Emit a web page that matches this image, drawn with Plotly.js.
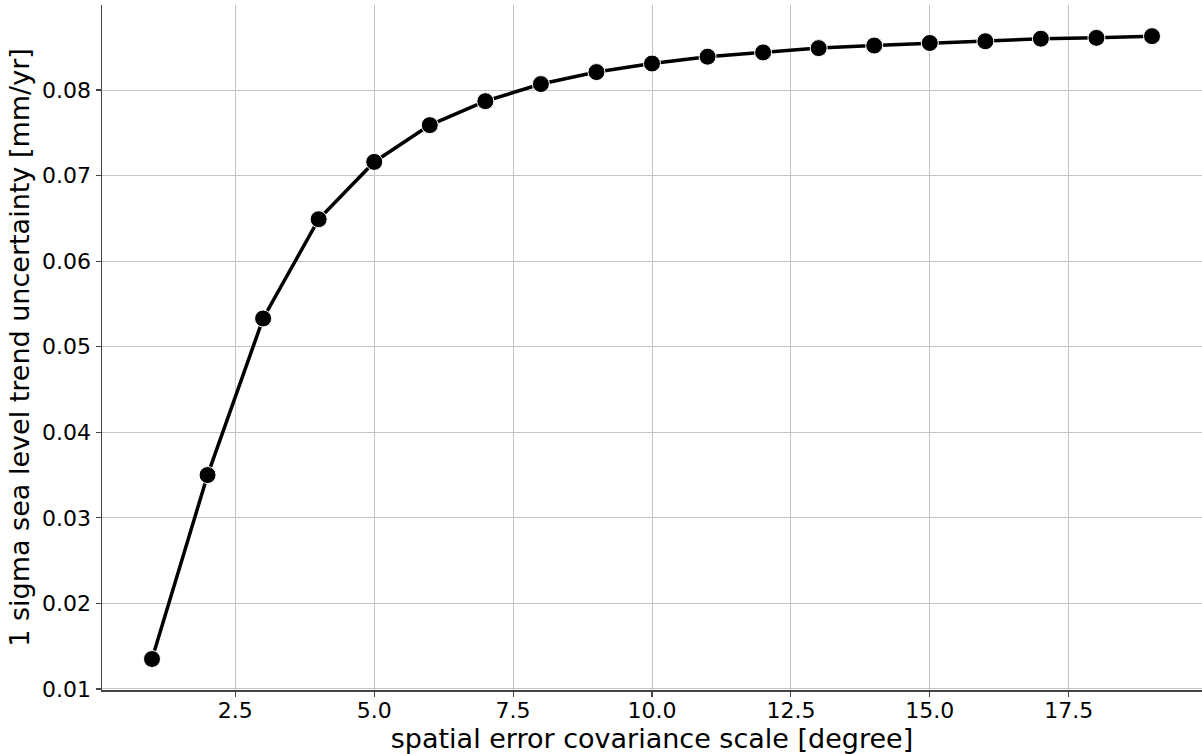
<!DOCTYPE html>
<html>
<head>
<meta charset="utf-8">
<script src="https://cdn.plot.ly/plotly-3.0.1.min.js"></script>
<style>html,body{margin:0;padding:0;background:#fff;}#chart{width:1202px;height:754px;}</style>
</head>
<body>
<div id="chart"></div>
<script>
const scaleDeg = [1,2,3,4,5,6,7,8,9,10,11,12,13,14,15,16,17,18,19];
const trendUncertainty = [0.0135,0.0350,0.0533,0.0649,0.0716,0.0759,0.0787,0.0807,0.0821,0.0831,0.0839,0.0844,0.0849,0.0852,0.0855,0.0857,0.0860,0.0861,0.0863];
const xTickVals = [2.5,5.0,7.5,10.0,12.5,15.0,17.5];
const xTickText = ['2.5','5.0','7.5','10.0','12.5','15.0','17.5'];
const yTickVals = [0.01,0.02,0.03,0.04,0.05,0.06,0.07,0.08];
const yTickText = ['0.01','0.02','0.03','0.04','0.05','0.06','0.07','0.08'];
const xTitle = 'spatial error covariance scale [degree]';
const yTitle = '1 sigma sea level trend uncertainty [mm/yr]';

const trace = {
  x: scaleDeg, y: trendUncertainty, type: 'scatter', mode: 'lines+markers',
  line: {color: '#000', width: 3.5},
  marker: {color: '#000', size: 17, line: {color: '#fff', width: 1}},
  hoverinfo: 'skip', cliponaxis: false
};
const layout = {
  width: 1202, height: 754,
  margin: {l: 102, r: 0, t: 5, b: 64},
  paper_bgcolor: '#fff', plot_bgcolor: '#fff',
  showlegend: false,
  font: {family: 'DejaVu Sans', size: 22, color: '#000'},
  xaxis: {
    range: [0.1, 19.9], tickvals: xTickVals, ticktext: xTickText,
    showgrid: true, gridcolor: '#c4c4c4', gridwidth: 1, zeroline: false,
    showline: true, linecolor: '#444', linewidth: 1.5,
    ticks: 'outside', ticklen: 5, tickwidth: 1.2, tickcolor: '#444',
    ticklabelstandoff: -5,
    tickfont: {family: 'DejaVu Sans', size: 22, color: '#000'},
    title: {text: xTitle, font: {family: 'DejaVu Sans', size: 27, color: '#000'}, standoff: 0},
    automargin: false
  },
  yaxis: {
    range: [0.00988, 0.08994], tickvals: yTickVals, ticktext: yTickText,
    showgrid: true, gridcolor: '#c4c4c4', gridwidth: 1, zeroline: false,
    showline: true, linecolor: '#444', linewidth: 1.5,
    ticks: 'outside', ticklen: 5, tickwidth: 1.2, tickcolor: '#444',
    tickfont: {family: 'DejaVu Sans', size: 22, color: '#000'},
    title: {text: yTitle, font: {family: 'DejaVu Sans', size: 27, color: '#000'}, standoff: 4},
    automargin: false
  }
};
Plotly.newPlot('chart', [trace], layout, {displayModeBar: false, staticPlot: true});
</script>
</body>
</html>
